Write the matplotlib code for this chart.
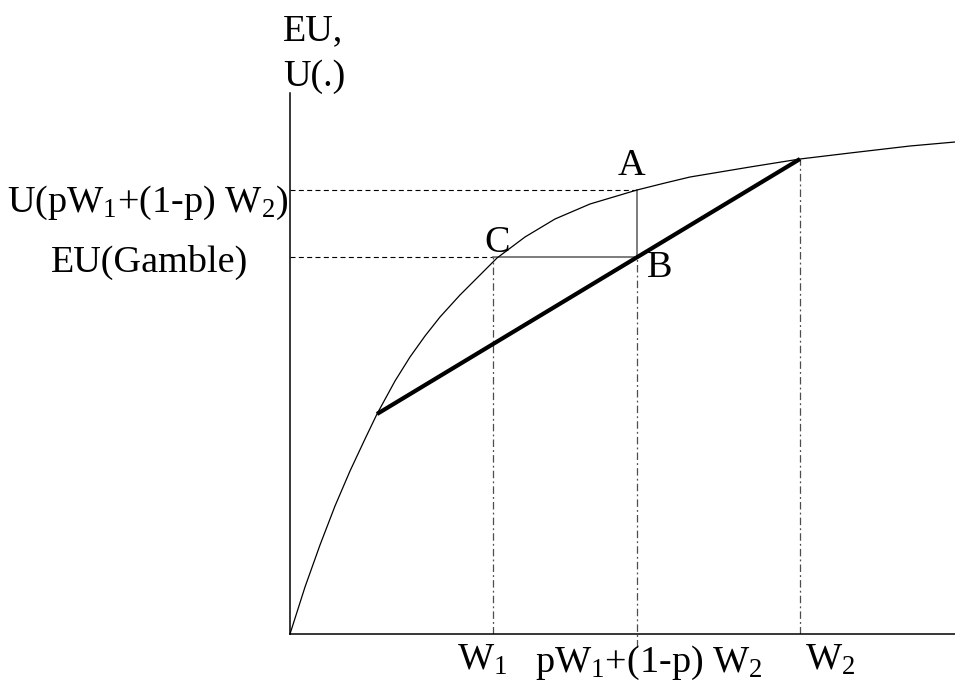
import matplotlib
matplotlib.use("Agg")
import matplotlib.pyplot as plt

plt.rcParams['font.family'] = ['Liberation Serif', 'DejaVu Serif']
plt.rcParams['mathtext.fontset'] = 'custom'
plt.rcParams['mathtext.rm'] = 'Liberation Serif'
plt.rcParams['mathtext.it'] = 'Liberation Serif'

# Utility curve (wealth, utility)
wealth = [0, 15, 30, 45, 60, 75, 87, 105, 120, 135, 150, 170, 190, 207, 235, 265,
          300, 347, 375, 400, 430, 460, 485, 510, 560, 620, 665]
utility = [0, 47, 89, 128, 163, 195, 220, 253, 277, 298, 317, 339, 359, 376, 397, 415,
           430, 444, 451, 457, 462, 467, 471, 475, 481, 488, 492]

# Key points
chord_x = [87, 510]
chord_y = [220, 475]
W1 = 203
W2 = 510
EV = 347          # pW1+(1-p)W2
U_EV = 444        # U(pW1+(1-p)W2)
EU_gamble = 377   # EU(Gamble)

fig = plt.figure(figsize=(9.55, 6.87), dpi=100)
ax = fig.add_axes([290/955, (687-634)/687, 665/955, 541/687])
ax.set_xlim(0, 665)
ax.set_ylim(0, 541)
for s in ['top', 'right']:
    ax.spines[s].set_visible(False)
for s in ['left', 'bottom']:
    ax.spines[s].set_linewidth(1.1)
ax.set_xticks([])
ax.set_yticks([])

# curve
ax.plot(wealth, utility, color='black', lw=0.9, clip_on=False, zorder=3)
# chord
ax.plot(chord_x, chord_y, color='black', lw=3.0, solid_capstyle='butt', zorder=4)

dash = (0, (4.5, 3))
dashdot = (0, (6, 2.5, 1.5, 2.5))
# horizontal dashed
ax.plot([0, EV], [U_EV, U_EV], color='black', lw=0.8, linestyle=dash)
ax.plot([0, W1], [EU_gamble, EU_gamble], color='black', lw=0.8, linestyle=dash)
# solid rectangle lines
ax.plot([W1, EV], [EU_gamble, EU_gamble], color='0.35', lw=1.1)
ax.plot([EV, EV], [EU_gamble, U_EV], color='0.35', lw=1.1)
# vertical dash-dot
ax.plot([W1, W1], [0, EU_gamble], color='0.3', lw=0.9, linestyle=dashdot)
ax.plot([EV, EV], [-13, EU_gamble], color='0.3', lw=0.9, linestyle=dashdot, clip_on=False)
ax.plot([W2, W2], [0, chord_y[1]], color='0.3', lw=0.9, linestyle=dashdot)

fs = 27.5
ax.text(-7, 594, 'EU,', fontsize=fs, ha='left', va='baseline')
ax.text(-7, 548, 'U(.)', fontsize=fs, ha='left', va='baseline')
ax.text(-2, 422, r'U(pW$_1$+(1-p) W$_2$)', fontsize=fs, ha='right', va='baseline')
ax.text(-42, 362, 'EU(Gamble)', fontsize=fs, ha='right', va='baseline')
ax.text(341, 459, 'A', fontsize=fs, ha='center', va='baseline')
ax.text(207, 382, 'C', fontsize=fs, ha='center', va='baseline')
ax.text(357, 357, 'B', fontsize=fs, ha='left', va='baseline')
ax.text(167, -36, r'W$_1$', fontsize=fs, ha='left', va='baseline')
ax.text(245, -38, r'pW$_1$+(1-p) W$_2$', fontsize=fs, ha='left', va='baseline')
ax.text(515, -36, r'W$_2$', fontsize=fs, ha='left', va='baseline')

fig.savefig('out.png', dpi=100)
